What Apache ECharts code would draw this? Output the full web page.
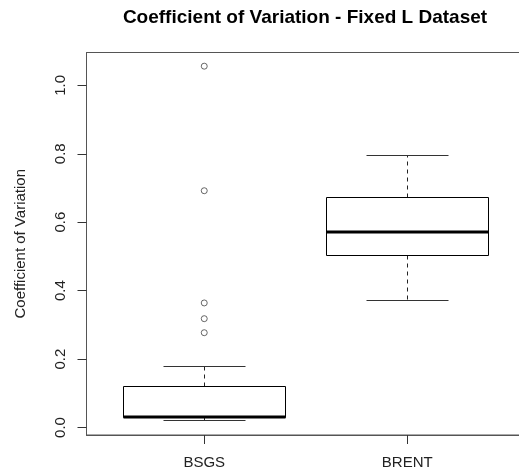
<!DOCTYPE html>
<html>
<head>
<meta charset="utf-8">
<script src="https://cdn.jsdelivr.net/npm/echarts@6/dist/echarts.min.js"></script>
<style>
html,body{margin:0;padding:0;background:#fff;}
#c{width:519px;height:474px;}
</style>
</head>
<body>
<div id="c"></div>
<script>
var categories = ['BSGS', 'BRENT'];
var whiskerLow = [0.020, 0.372];
var q1 = [0.028, 0.503];
var median = [0.031, 0.570];
var q3 = [0.120, 0.673];
var whiskerHigh = [0.177, 0.796];
var outliersBSGS = [1.056, 0.692, 0.364, 0.318, 0.277];
var yTicks = [0.0, 0.2, 0.4, 0.6, 0.8, 1.0];

var boxData = categories.map(function (c, i) {
  return [i + 1, whiskerLow[i], q1[i], median[i], q3[i], whiskerHigh[i]];
});
var outlierData = outliersBSGS.map(function (v) { return [1, v]; });

function crisp(v) { return Math.round(v - 0.5) + 0.5; }

var chart = echarts.init(document.getElementById('c'));
chart.setOption({
  animation: false,
  backgroundColor: '#fff',
  title: {
    text: 'Coefficient of Variation - Fixed L Dataset',
    left: 300, top: 3, textAlign: 'center',
    textStyle: { fontFamily: 'Liberation Sans', fontWeight: 'bold', fontSize: 19, color: '#000' }
  },
  grid: {
    left: 86.5, top: 52.5, width: 438.5, height: 382.5,
    outerBoundsMode: 'none', containLabel: false,
    show: true, borderColor: '#555', borderWidth: 1, backgroundColor: 'transparent'
  },
  xAxis: {
    type: 'value', min: 0.42, max: 2.58,
    splitLine: { show: false },
    axisLine: { show: true, onZero: false, lineStyle: { color: '#555', width: 1 } },
    axisTick: { show: true, length: 9, customValues: [1, 2], lineStyle: { color: '#333' } },
    axisLabel: {
      customValues: [1, 2], margin: 20,
      formatter: function (v) { return categories[Math.round(v) - 1] || ''; },
      fontFamily: 'Liberation Sans', fontSize: 15, color: '#222'
    }
  },
  yAxis: {
    type: 'value', min: -0.022, max: 1.096,
    name: 'Coefficient of Variation', nameLocation: 'middle', nameGap: 58,
    nameTextStyle: { fontFamily: 'Liberation Sans', fontSize: 15, color: '#222' },
    splitLine: { show: false },
    axisLine: { show: true, onZero: false, lineStyle: { color: '#555', width: 1 } },
    axisTick: { show: true, length: 9, customValues: yTicks, lineStyle: { color: '#333' } },
    axisLabel: {
      customValues: yTicks, rotate: 90, margin: 18,
      formatter: function (v) { return v.toFixed(1); },
      fontFamily: 'Liberation Sans', fontSize: 15, color: '#222'
    }
  },
  series: [
    {
      type: 'custom',
      data: boxData,
      renderItem: function (params, api) {
        var x = api.value(0);
        var pLow = api.coord([x, api.value(1)]);
        var pQ1 = api.coord([x, api.value(2)]);
        var pMed = api.coord([x, api.value(3)]);
        var pQ3 = api.coord([x, api.value(4)]);
        var pHigh = api.coord([x, api.value(5)]);
        var boxW = api.size([0.8, 0])[0];
        var capW = api.size([0.4, 0])[0];
        var cx = crisp(pMed[0]);
        var bx1 = crisp(cx - boxW / 2), bx2 = crisp(cx + boxW / 2);
        var cx1 = crisp(cx - capW / 2), cx2 = crisp(cx + capW / 2);
        var yLow = crisp(pLow[1]), yQ1 = crisp(pQ1[1]), yQ3 = crisp(pQ3[1]), yHigh = crisp(pHigh[1]);
        var yMed = Math.round(pMed[1]);
        var dashed = { stroke: '#222', lineWidth: 1, lineDash: [4, 4] };
        return {
          type: 'group',
          children: [
            { type: 'line', shape: { x1: cx, y1: yQ3, x2: cx, y2: yHigh }, style: dashed },
            { type: 'line', shape: { x1: cx, y1: yQ1, x2: cx, y2: yLow }, style: dashed },
            { type: 'line', shape: { x1: cx1, y1: yHigh, x2: cx2, y2: yHigh }, style: { stroke: '#333', lineWidth: 1 } },
            { type: 'line', shape: { x1: cx1, y1: yLow, x2: cx2, y2: yLow }, style: { stroke: '#333', lineWidth: 1 } },
            { type: 'rect', shape: { x: bx1, y: yQ3, width: bx2 - bx1, height: yQ1 - yQ3 }, style: { fill: '#fff', stroke: '#000', lineWidth: 1 } },
            { type: 'line', shape: { x1: bx1, y1: yMed, x2: bx2, y2: yMed }, style: { stroke: '#000', lineWidth: 3 } }
          ]
        };
      }
    },
    {
      type: 'scatter',
      data: outlierData,
      symbol: 'circle', symbolSize: 6,
      itemStyle: { color: '#fff', borderColor: '#444', borderWidth: 1 }
    }
  ]
});
</script>
</body>
</html>
